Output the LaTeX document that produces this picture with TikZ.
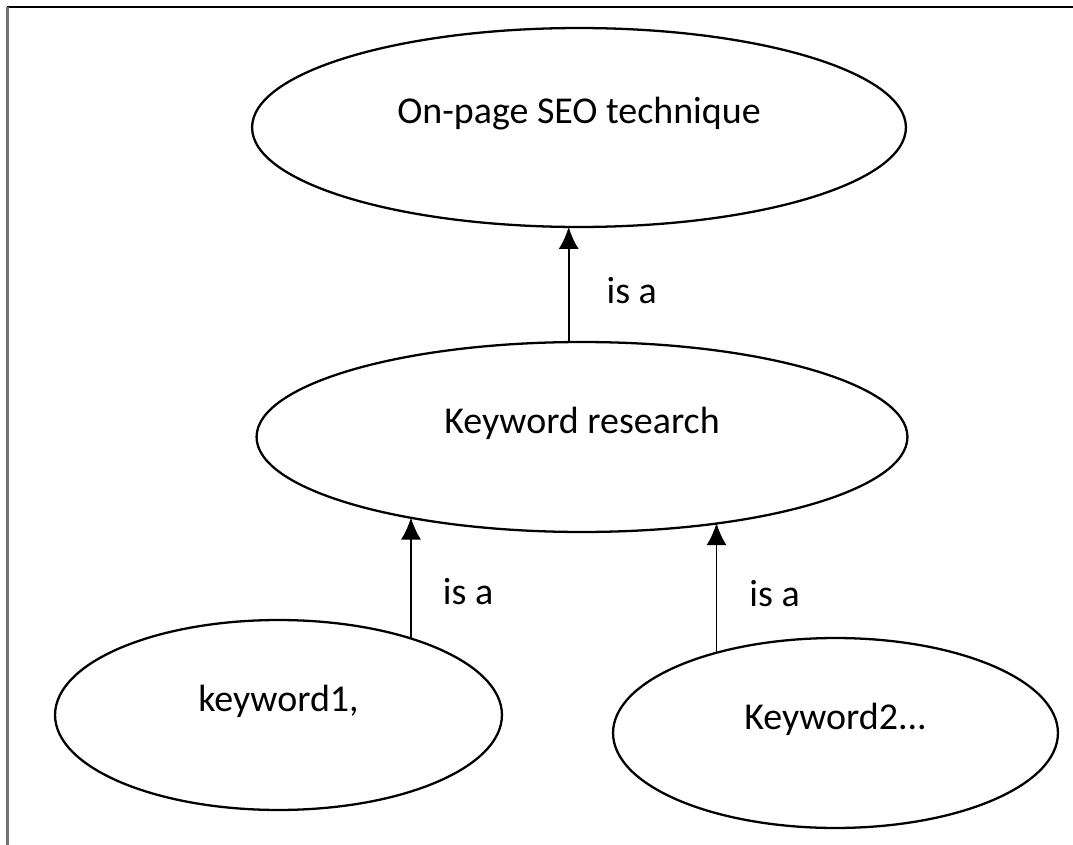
\documentclass[tikz,border=0pt]{standalone}
\usepackage{fontspec}
\setmainfont{Carlito}
\usetikzlibrary{shapes.geometric, arrows.meta}

\begin{document}
\begin{tikzpicture}[x = 0.02cm, y = -0.02cm,
  bubble/.style = {draw, ellipse, line width = 1.3pt, inner sep = 0pt, outer sep = 0pt, text height = 0.5cm, text depth = 0.66cm, font = \fontsize{21.6}{26}\selectfont},
  isa/.style = {line width = 1.1pt, -{Latex[length = 4.4mm, width = 4mm]}},
  isalabel/.style = {anchor = west, inner sep = 0pt, font = \fontsize{21.6}{26}\selectfont}]
\useasboundingbox (0,0) rectangle (1073,845);
\draw [black, line width = 0.9pt] (7,7) -- (1073,7);
\draw [color = black!55, line width = 1.2pt] (7.5,7) -- (7.5,845);
\node [bubble, minimum width = 13.08cm, minimum height = 3.98cm] (S) at (579,127.5) {On-page SEO technique};
\node [bubble, minimum width = 13.02cm, minimum height = 3.8cm] (K) at (582,437) {Keyword research};
\node [bubble, minimum width = 8.94cm, minimum height = 3.8cm] (A) at (278.5,715) {keyword1,};
\node [bubble, minimum width = 8.9cm, minimum height = 3.8cm] (B) at (835.5,733) {Keyword2...};
\draw [isa] (K.98) -- (K.98 |- S.264) node [isalabel, pos = 0.45, xshift = 0.74cm] {is a};
\draw [isa] (A.30) -- (A.30 |- K.205) node [isalabel, pos = 0.39, xshift = 0.62cm] {is a};
\draw [isa] (B.146) -- (B.146 |- K.328) node [isalabel, pos = 0.46, xshift = 0.64cm] {is a};
\end{tikzpicture}
\end{document}
